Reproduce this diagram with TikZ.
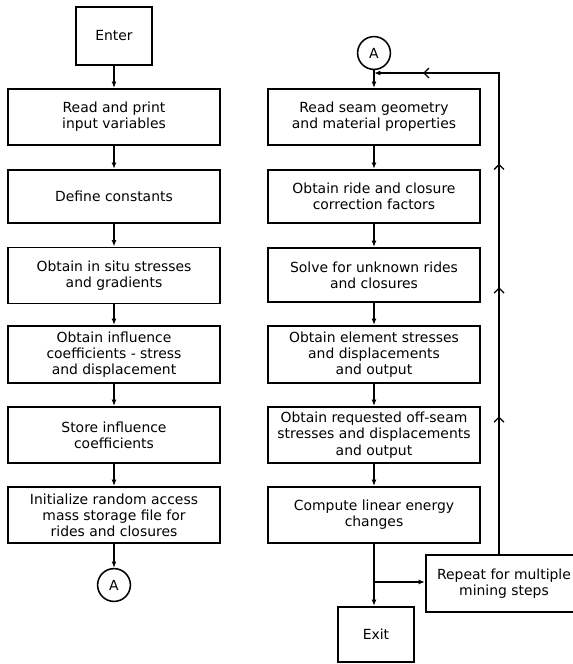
\documentclass[tikz,border=0pt]{standalone}
\usepackage{fontspec}
\setmainfont{DejaVu Sans}
\usetikzlibrary{arrows.meta,decorations.markings}

\begin{document}
\begin{tikzpicture}[x=0.025cm, y=-0.025cm, font=\fontsize{9.9}{11.5}\selectfont,
    >={Latex[length=4.5pt,width=3.5pt]},
    proc/.style={rectangle, draw, line width=1.4pt, minimum width=5.28cm, minimum height=1.4cm, align=center, inner sep=1pt},
    term/.style={proc, minimum width=1.9cm},
    conn/.style={circle, draw, line width=1.1pt, minimum size=0.82cm, inner sep=0pt},
    flow/.style={->, line width=0.9pt},
    loopmarks/.style={postaction={decorate}, decoration={markings,
        mark=at position 0.227 with {\arrow{Straight Barb[length=3.5pt,width=7pt]}},
        mark=at position 0.440 with {\arrow{Straight Barb[length=3.5pt,width=7pt]}},
        mark=at position 0.644 with {\arrow{Straight Barb[length=3.5pt,width=7pt]}},
        mark=at position 0.919 with {\arrow{Straight Barb[length=3.5pt,width=7pt]}}}}]
    \useasboundingbox (0,0) rectangle (572,664);
    \node[term, minimum height=1.43cm] (enter) at (114,36) {Enter};
    \node[proc] (rdin) at (114,117) {Read and print\\input variables};
    \node[proc, minimum height=1.33cm] (const) at (114,196.5) {Define constants};
    \node[proc] (insitu) at (114,275.5) {Obtain in situ stresses\\and gradients};
    \node[proc, minimum height=1.43cm] (infl) at (114,354.5) {Obtain influence\\coefficients - stress\\and displacement};
    \node[proc] (store) at (114,435) {Store influence\\coefficients};
    \node[proc] (init) at (114,515) {Initialize random access\\mass storage file for\\rides and closures};
    \node[conn] (outA) at (114,585) {A};
    \draw[flow] (enter) -- (rdin);
    \draw[flow] (rdin) -- (const);
    \draw[flow] (const) -- (insitu);
    \draw[flow] (insitu) -- (infl);
    \draw[flow] (infl) -- (store);
    \draw[flow] (store) -- (init);
    \draw[flow] (init) -- (outA);
    \node[conn] (inA) at (374,53) {A};
    \node[proc] (seam) at (374,117) {Read seam geometry\\and material properties};
    \node[proc, minimum height=1.33cm] (corr) at (374,196.5) {Obtain ride and closure\\correction factors};
    \node[proc, minimum height=1.35cm] (solve) at (374,275) {Solve for unknown rides\\and closures};
    \node[proc, minimum height=1.43cm] (elem) at (374,354.5) {Obtain element stresses\\and displacements\\and output};
    \node[proc] (offs) at (374,435) {Obtain requested off-seam\\stresses and displacements\\and output};
    \node[proc] (energy) at (374,515) {Compute linear energy\\changes};
    \node[term, minimum height=1.38cm] (exit) at (376,634.5) {Exit};
    \node[proc, minimum width=3.9cm, minimum height=1.43cm] (repeat) at (504,583.5) {Repeat for multiple\\mining steps};
    \coordinate (join) at (374,73);
    \coordinate (fork) at (374,582);
    \draw[flow] (inA) -- (seam);
    \draw[flow] (seam) -- (corr);
    \draw[flow] (corr) -- (solve);
    \draw[flow] (solve) -- (elem);
    \draw[flow] (elem) -- (offs);
    \draw[flow] (offs) -- (energy);
    \draw[line width=0.9pt] (energy) -- (fork);
    \draw[flow] (fork) -- (fork |- exit.north);
    \draw[flow] (fork) -- (fork -| repeat.west);
    \draw[flow, loopmarks] ([xshift=-3.5pt]repeat.north) |- (join);
\end{tikzpicture}
\end{document}
